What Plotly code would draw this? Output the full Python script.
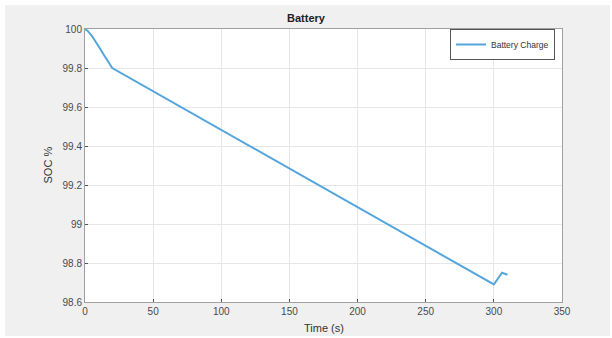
import plotly.graph_objects as go

# Data
time_s = [0, 2, 5, 8, 11, 14, 17, 20, 300, 303, 306, 308, 310]
soc_pct = [100.0, 99.99, 99.965, 99.935, 99.9, 99.865, 99.83, 99.80,
           98.69, 98.72, 98.75, 98.745, 98.74]

x_ticks = [0, 50, 100, 150, 200, 250, 300, 350]
y_ticks = [98.6, 98.8, 99.0, 99.2, 99.4, 99.6, 99.8, 100.0]
y_tick_labels = ["98.6", "98.8", "99", "99.2", "99.4", "99.6", "99.8", "100"]

W, H = 612, 338
L, R, T, B = 85, 50, 29, 36
pw, ph = W - L - R, H - T - B

def px_x(p):
    return (p - L) / pw

def px_y(p):
    return (H - B - p) / ph

fig = go.Figure()
fig.add_trace(go.Scatter(
    x=time_s, y=soc_pct, mode="lines", name="Battery Charge",
    line=dict(color="#55a5dd", width=2),
))

axis_common = dict(
    showgrid=True, gridcolor="#e6e6e6", gridwidth=1,
    showline=True, linecolor="#a0a0a0", linewidth=1, mirror=True,
    ticks="inside", ticklen=3, tickcolor="#555555",
    tickfont=dict(family="Liberation Sans, Arial", size=10, color="#4a4a4a"),
    zeroline=False, automargin=False,
)

fig.update_xaxes(range=[0, 350], tickvals=x_ticks, **axis_common)
fig.update_yaxes(range=[98.6, 100], tickvals=y_ticks, ticktext=y_tick_labels,
                 **axis_common)

title_font = dict(family="Liberation Sans, Arial", size=11, color="#333333")
fig.add_annotation(text="Time (s)", xref="paper", yref="paper",
                   x=px_x(323.5), y=px_y(328), xanchor="center", yanchor="middle",
                   showarrow=False, font=title_font)
fig.add_annotation(text="SOC %", xref="paper", yref="paper", textangle=-90,
                   x=px_x(47), y=px_y(165.5), xanchor="center", yanchor="middle",
                   showarrow=False, font=title_font)

# thin white frame around the grey figure area
for x0, x1, y0, y1 in [(0, 5, 0, H), (0, W, 0, 5), (W - 2, W, 0, H), (0, W, H - 2, H)]:
    fig.add_shape(type="rect", xref="paper", yref="paper",
                  x0=px_x(x0), x1=px_x(x1), y0=px_y(y1), y1=px_y(y0),
                  fillcolor="white", line=dict(width=0), layer="above")

fig.update_layout(
    width=W, height=H,
    margin=dict(l=L, r=R, t=T, b=B, autoexpand=False),
    paper_bgcolor="#f0f0f0",
    plot_bgcolor="white",
    title=dict(text="<b>Battery</b>", x=px_x(323.5), xanchor="center",
               y=1 - 18 / H, yanchor="middle",
               font=dict(family="Liberation Sans, Arial", size=11, color="#222222")),
    showlegend=True,
    legend=dict(x=px_x(555), xanchor="right", y=px_y(29), yanchor="top",
                bgcolor="white", bordercolor="#555555", borderwidth=1,
                font=dict(family="Liberation Sans, Arial", size=8.5, color="#333333"),
                itemwidth=30, tracegroupgap=0),
)

fig.write_html("out.html")
